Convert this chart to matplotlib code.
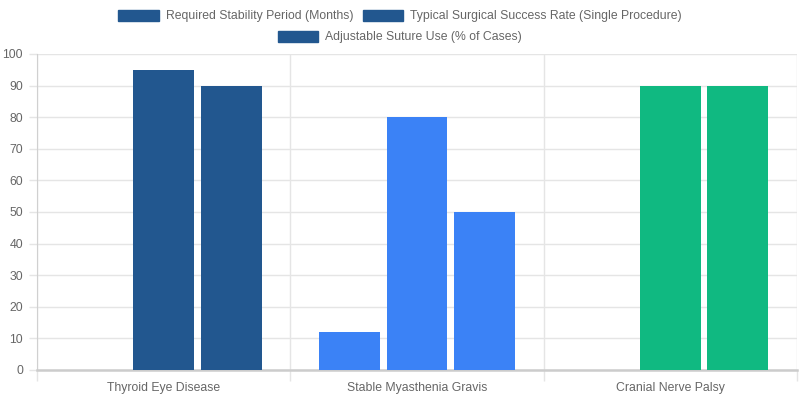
import numpy as np
import matplotlib.pyplot as plt
from matplotlib.patches import Patch

plt.rcParams['font.family'] = ['Liberation Sans', 'DejaVu Sans']

categories = ['Thyroid Eye Disease', 'Stable Myasthenia Gravis', 'Cranial Nerve Palsy']
series_names = ['Required Stability Period (Months)',
                'Typical Surgical Success Rate (Single Procedure)',
                'Adjustable Suture Use (% of Cases)']
stability_months = [0, 12, 0]
success_rate = [95, 80, 90]
suture_use = [90, 50, 90]
category_colors = ['#22578f', '#3b82f6', '#10b981']
y_ticks = list(range(0, 101, 10))

text_color = '#666666'
grid_color = '#e5e5e5'
fs = 8.8

fig = plt.figure(figsize=(8, 4), dpi=100)
ax = fig.add_axes([37 / 800, 30 / 400, 760 / 800, 316 / 400])

x = np.arange(len(categories))
slot = 0.8 / 3
width = slot * 0.9
for i, values in enumerate([stability_months, success_rate, suture_use]):
    ax.bar(x + (i - 1) * slot, values, width=width, color=category_colors, zorder=3)

ax.set_xlim(-0.5, len(categories) - 0.5)
ax.set_ylim(0, 100)
ax.set_yticks(y_ticks)
ax.set_xticks(x)
ax.set_xticklabels(categories)
ax.set_xticks(np.arange(-0.5, len(categories), 1.0), minor=True)

ax.tick_params(axis='y', colors=grid_color, labelcolor=text_color, labelsize=fs,
               length=6, width=1, pad=4)
ax.tick_params(axis='x', which='major', length=0, labelcolor=text_color, labelsize=fs, pad=9)
ax.tick_params(axis='x', which='minor', length=8, width=1, colors=grid_color)

ax.grid(True, axis='y', color=grid_color, linewidth=1, zorder=0)
ax.grid(True, axis='x', which='minor', color=grid_color, linewidth=1, zorder=0)

for side in ['top', 'right']:
    ax.spines[side].set_visible(False)
ax.spines['left'].set_color('#d0d0d0')
ax.spines['bottom'].set_color('#cccccc')
ax.spines['bottom'].set_linewidth(1.8)

# legend in two centered rows, every swatch uses the first colour like the original
handles = [Patch(facecolor=category_colors[0], edgecolor=category_colors[0]) for _ in series_names]
leg_kw = dict(frameon=False, fontsize=fs, labelcolor=text_color, handlelength=3.3,
              handleheight=1.0, handletextpad=0.57, columnspacing=0.8, borderaxespad=0)
fig.legend(handles[:2], series_names[:2], loc='center', bbox_to_anchor=(0.5, 1 - 16 / 400),
           ncol=2, **leg_kw)
fig.legend(handles[2:], series_names[2:], loc='center', bbox_to_anchor=(0.5, 1 - 37 / 400),
           ncol=1, **leg_kw)

fig.savefig('out.png', dpi=100)
